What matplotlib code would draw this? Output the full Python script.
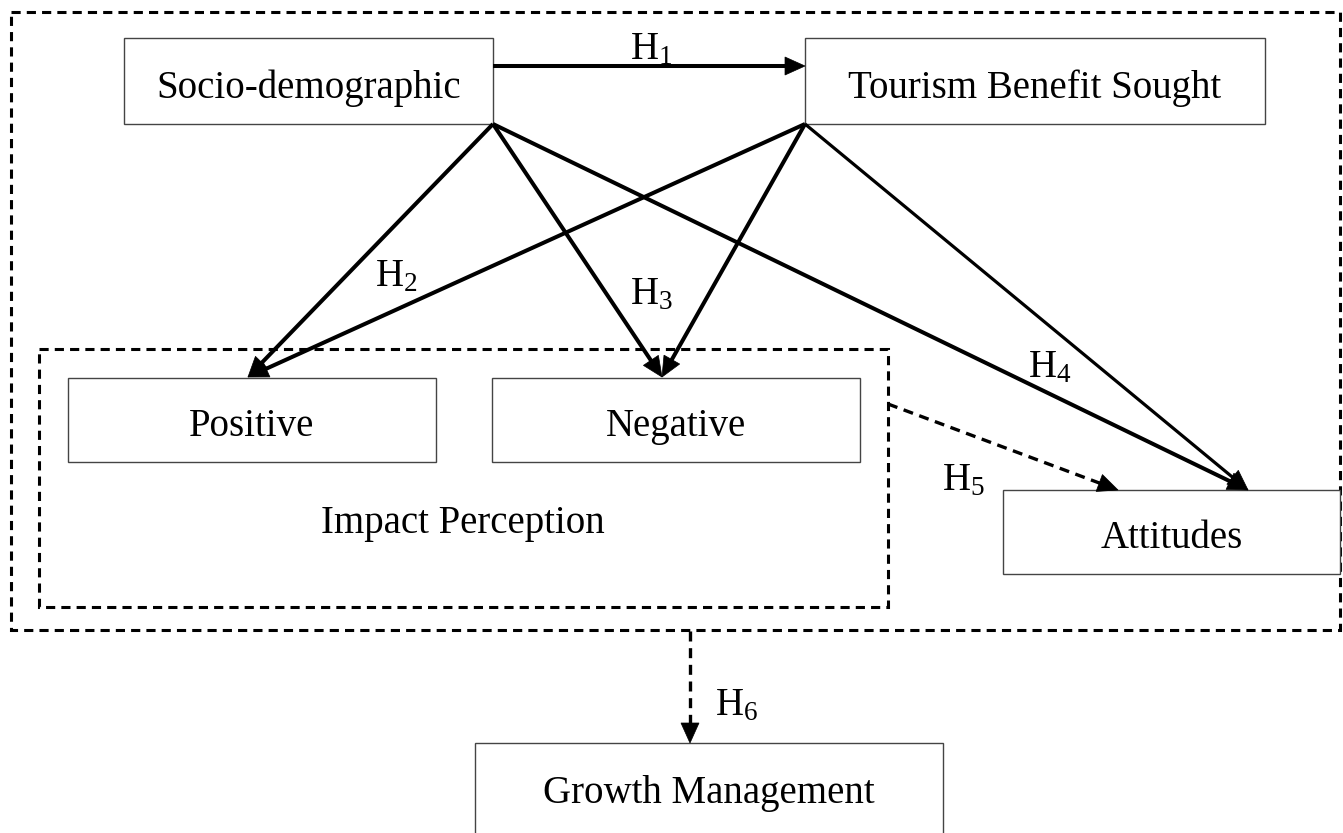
import numpy as np
import matplotlib.pyplot as plt
from matplotlib.patches import Rectangle, Polygon

plt.rcParams['font.family'] = ['Liberation Serif', 'DejaVu Serif']
plt.rcParams['mathtext.default'] = 'regular'

# boxes: label, left, top, right, bottom (pixel coords, y downwards), text baseline
box_names = ["Socio-demographic", "Tourism Benefit Sought", "Positive", "Negative",
             "Attitudes", "Growth Management"]
box_x0 = [124, 805, 68, 492, 1003, 475]
box_y0 = [38, 38, 378, 378, 490, 743]
box_x1 = [493, 1265, 436, 860, 1340, 943]
box_y1 = [124, 124, 462, 462, 574, 860]
box_base = [98, 98, 436, 436, 548, 803]

# arrows: start, end, line width, dashed?
arrow_from = [(493, 66), (493, 124), (493, 124), (493, 124), (805, 124), (805, 124), (805, 124),
              (888, 404), (690, 631)]
arrow_to = [(805, 66), (248, 377), (662, 377), (1248, 490), (248, 377), (662, 377), (1248, 490),
            (1118, 490), (690, 743)]
arrow_lw = [2.9, 2.9, 2.9, 2.9, 2.9, 2.9, 2.3, 2.4, 2.4]
arrow_dashed = [False, False, False, False, False, False, False, True, True]

# hypothesis labels (left x, baseline y)
h_labels = ["H$_1$", "H$_2$", "H$_3$", "H$_4$", "H$_5$", "H$_6$"]
h_x = [630, 375, 630, 1028, 942, 715]
h_y = [59, 286, 304, 377, 490, 715]

fig = plt.figure(figsize=(13.43, 8.33), dpi=100)
ax = fig.add_axes([0, 0, 1, 1])
ax.set_xlim(0, 1343)
ax.set_ylim(833, 0)
ax.axis('off')

# dashed group frames
dash = (0, (3, 2))
ax.add_patch(Rectangle((11, 12), 1329, 618, fill=False, lw=2.2, ls=dash, ec='black'))
ax.add_patch(Rectangle((39, 349), 849, 258, fill=False, lw=2.2, ls=dash, ec='black'))
ax.text(463, 533, "Impact Perception", fontsize=28, ha='center', va='baseline')

for name, x0, y0, x1, y1, yb in zip(box_names, box_x0, box_y0, box_x1, box_y1, box_base):
    ax.add_patch(Rectangle((x0, y0), x1 - x0, y1 - y0, fill=True, fc='white',
                           lw=1.0, ec='#444444', zorder=2))
    ax.text((x0 + x1) / 2, yb, name, fontsize=28, ha='center', va='baseline', zorder=3)

# arrows: line + filled triangular head
L, W = 20, 9
for p0, p1, lw, d in zip(arrow_from, arrow_to, arrow_lw, arrow_dashed):
    p0 = np.array(p0, float)
    p1 = np.array(p1, float)
    u = (p1 - p0) / np.linalg.norm(p1 - p0)
    n = np.array([-u[1], u[0]])
    base = p1 - u * L
    ax.plot([p0[0], base[0] + u[0] * 2], [p0[1], base[1] + u[1] * 2], color='black', lw=lw,
            ls=(0, (3, 2)) if d else '-', solid_capstyle='butt', zorder=4)
    ax.add_patch(Polygon([p1, base + n * W, base - n * W], closed=True,
                         fc='black', ec='black', lw=0.5, zorder=5))

for lab, x, y in zip(h_labels, h_x, h_y):
    ax.text(x, y, lab, fontsize=28, ha='left', va='baseline', zorder=5)

fig.savefig('out.png', dpi=100)
